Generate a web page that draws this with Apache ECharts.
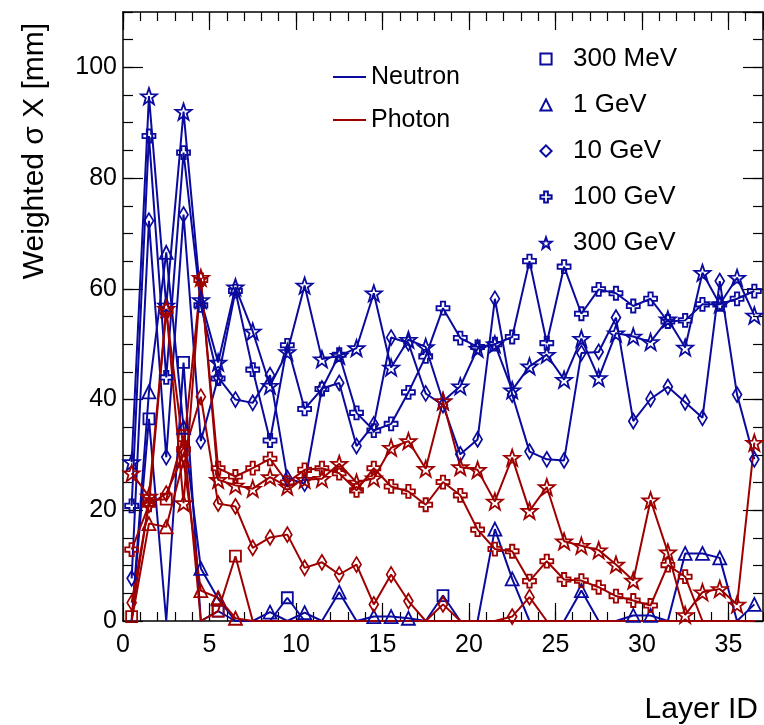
<!DOCTYPE html>
<html>
<head>
<meta charset="utf-8">
<script src="https://cdn.jsdelivr.net/npm/echarts@6/dist/echarts.min.js"></script>
<style>
	html, body { margin: 0; padding: 0; background: #fff; }
	#chart { width: 764px; height: 725px; }
</style>
</head>
<body>
<div id="chart"></div>
<script>
	const FONT = '"Liberation Sans", Arial, sans-serif'
	const BLUE = '#0a0a9e'
	const RED = '#9e0000'

	// layer centres on the x axis
	const layerId = [0.5, 1.5, 2.5, 3.5, 4.5, 5.5, 6.5, 7.5, 8.5, 9.5,
		10.5, 11.5, 12.5, 13.5, 14.5, 15.5, 16.5, 17.5, 18.5, 19.5,
		20.5, 21.5, 22.5, 23.5, 24.5, 25.5, 26.5, 27.5, 28.5, 29.5,
		30.5, 31.5, 32.5, 33.5, 34.5, 35.5, 36.5]

	const energies = ['300 MeV', '1 GeV', '10 GeV', '100 GeV', '300 GeV']

	/* neutron */
	const neutron300MeV = [0, 36.5, 0, 46.7, 0, 1.8, 0, 0, 0, 4.2,
		0, 0, 0, 0, 0, 0, 0, 0, 4.6, 0,
		0, 0, 0, 0, 0, 0, 0, 0, 0, 0,
		0, 0, 0, 0, 0, 0, 0]
	const neutron1GeV = [0, 41.4, 66.6, 35, 9.5, 4, 0, 0, 1.6, 0,
		1.5, 0, 5.2, 0, 0.8, 0.8, 0.5, 0, 0, 0,
		0, 16.6, 7.6, 0, 0, 0, 5.5, 0, 0, 1,
		1, 0, 12.2, 12.2, 11.4, 0, 3]
	const neutron10GeV = [7.7, 72.3, 29.6, 73.4, 32.5, 44, 40, 39.4, 44.4, 25.8,
		24.8, 42, 43, 31.6, 35.5, 51.2, 50.2, 41.1, 39, 30.1,
		32.8, 58.2, 40.9, 30.6, 29.2, 29, 48.4, 48.6, 54.8, 36.1,
		40.1, 42.3, 39.5, 36.7, 61.4, 40.9, 29.2]
	const neutron100GeV = [20.8, 87.6, 44, 84.6, 57, 43.8, 59.6, 45.4, 32.6, 49.8,
		38.3, 41.9, 48.1, 37.6, 34.4, 35.6, 41.3, 47.8, 56.5, 51.1,
		49.5, 50, 51.3, 65, 50.2, 64, 55.5, 59.9, 59.2, 56.9,
		58.2, 54.1, 54.3, 57.2, 57.2, 58.2, 59.6]
	const neutron300GeV = [28.7, 94.8, 57, 92, 58, 46.7, 60.3, 52.3, 42.5, 48.6,
		60.6, 47.3, 47.9, 49.3, 59.2, 45.8, 50.8, 49.5, 39.7, 42.4,
		49.2, 50, 41.7, 46, 48.1, 43.6, 51, 43.9, 52, 51.4,
		50.4, 54.5, 49.4, 62.9, 57.2, 62, 55.2]

	/* photon */
	const photon300MeV = [0.8, 21.8, 22, 33.5, 0, 1.8, 11.7, 0, 0, 0,
		0, 0, 0, 0, 0, 0, 0, 0, 0, 0,
		0, 0, 0, 0, 0, 0, 0, 0, 0, 0,
		0, 0, 0, 0, 0, 0, 0]
	const photon1GeV = [0, 17.6, 17, 29, 5.5, 4.2, 0.5, 0, 0, 0,
		0, 0, 0, 0, 0, 0, 0, 0, 0, 0,
		0, 0, 0, 0, 0, 0, 0, 0, 0, 0,
		0, 0, 0, 0, 0, 0, 0]
	const photon10GeV = [3.3, 21, 23, 30, 40.5, 21.2, 20.7, 13.2, 15.1, 15.6,
		9.6, 10.6, 8.4, 10.2, 3, 8.4, 3.6, 0, 3, 0,
		0, 0, 0.8, 4.3, 0, 0, 0, 0, 0, 0,
		0, 0, 0, 0, 0, 0, 0]
	const photon100GeV = [12.9, 21, 56, 31, 61.6, 27.6, 26.1, 27.6, 29.3, 25,
		27.3, 27.6, 26.7, 23.6, 27.6, 24.3, 23.4, 21, 25.1, 22.7,
		16.5, 13, 12.6, 7.2, 10.8, 7.5, 7.3, 6.1, 4.5, 3.7,
		2.8, 10.1, 8, 0, 0, 0, 0]
	const photon300GeV = [26.7, 22.5, 56.4, 21.3, 62, 25.5, 24.5, 23.9, 26, 24.3,
		25.5, 25.7, 28.4, 25, 25.8, 31.3, 32.5, 27.5, 39.7, 27.8,
		27.3, 21.6, 29.5, 19.9, 24.2, 14.4, 13.6, 12.8, 10.2, 7.3,
		21.8, 12.4, 1.1, 5.2, 5.8, 3, 32.2]

	const neutronData = [neutron300MeV, neutron1GeV, neutron10GeV, neutron100GeV, neutron300GeV]
	const photonData = [photon300MeV, photon1GeV, photon10GeV, photon100GeV, photon300GeV]

	// ROOT style open markers
	const crossPath = 'path://M-1,-3L1,-3L1,-1L3,-1L3,1L1,1L1,3L-1,3L-1,1L-3,1L-3,-1L-1,-1Z'
	const starPath = 'path://M0,-10L2.35,-3.24L9.51,-3.09L3.8,1.24L5.88,8.09L0,4L-5.88,8.09L-3.8,1.24L-9.51,-3.09L-2.35,-3.24Z'
	const markers = [
		{ symbol: 'rect', size: 11 },
		{ symbol: 'triangle', size: 13 },
		{ symbol: 'diamond', size: [9, 15] },
		{ symbol: crossPath, size: 13 },
		{ symbol: starPath, size: 16 }
	]

	function graphSeries(name, color, vals, m) {
		return {
			name: name,
			type: 'line',
			xAxisIndex: 0,
			yAxisIndex: 0,
			clip: false,
			symbol: m.symbol,
			symbolSize: m.size,
			showAllSymbol: true,
			lineStyle: { color: color, width: 2 },
			itemStyle: { color: 'transparent', borderColor: color, borderWidth: 1.8 },
			// markers sitting on the frame (zero) are not drawn, like in ROOT
			data: layerId.map((x, i) => vals[i] === 0 ? { value: [x, 0], symbol: 'none' } : [x, vals[i]])
		}
	}

	var seriesData = []
	neutronData.forEach((v, k) => {
		seriesData.push(graphSeries('n ' + energies[k], BLUE, v, markers[k]))
	})
	photonData.forEach((v, k) => {
		seriesData.push(graphSeries('p ' + energies[k], RED, v, markers[k]))
	})
	/* legend-only entries */
	seriesData.push({ name: 'Neutron', type: 'line', symbol: 'none', lineStyle: { color: BLUE, width: 2 }, itemStyle: { color: BLUE }, data: [] })
	seriesData.push({ name: 'Photon', type: 'line', symbol: 'none', lineStyle: { color: RED, width: 2 }, itemStyle: { color: RED }, data: [] })
	energies.forEach((e, k) => {
		seriesData.push({
			name: e, type: 'line', symbol: markers[k].symbol,
			lineStyle: { color: BLUE, width: 0 },
			itemStyle: { color: 'transparent', borderColor: BLUE, borderWidth: 1.8 },
			data: []
		})
	})

	const tickStyle = { color: '#000', width: 1.2 }
	function xAx(pos, interval, len, labels) {
		return {
			type: 'value', min: 0, max: 37, interval: interval, position: pos,
			axisLine: { show: labels !== null, onZero: false, lineStyle: { color: '#000', width: 1.5 } },
			axisTick: { show: true, inside: true, length: len, lineStyle: tickStyle },
			axisLabel: labels ? { color: '#000', fontSize: 25, fontFamily: FONT, margin: 12, showMaxLabel: false } : { show: false },
			splitLine: { show: false }
		}
	}
	function yAx(pos, interval, len, labels) {
		return {
			type: 'value', min: 0, max: 110, interval: interval, position: pos,
			axisLine: { show: labels !== null, onZero: false, lineStyle: { color: '#000', width: 1.5 } },
			axisTick: { show: true, inside: true, length: len, lineStyle: tickStyle },
			axisLabel: labels ? { color: '#000', fontSize: 25, fontFamily: FONT, margin: 6, showMaxLabel: false } : { show: false },
			splitLine: { show: false }
		}
	}

	var chart = echarts.init(document.getElementById('chart'), null, { renderer: 'canvas' })
	chart.setOption({
		animation: false,
		backgroundColor: '#fff',
		grid: { left: 123, right: 1, top: 12, bottom: 104 },
		xAxis: [
			xAx('bottom', 5, 18, true),
			xAx('bottom', 1, 9, null),
			xAx('top', 5, 18, false),
			xAx('top', 1, 9, null)
		],
		yAxis: [
			yAx('left', 20, 20, true),
			yAx('left', 5, 10, null),
			yAx('right', 20, 20, false),
			yAx('right', 5, 10, null)
		],
		legend: [{
			data: ['Neutron', 'Photon'],
			orient: 'vertical',
			left: 327,
			top: 57,
			itemWidth: 33,
			itemHeight: 14,
			itemGap: 13,
			selectedMode: false,
			itemStyle: { opacity: 0 },
			textStyle: { color: '#000', fontSize: 25, fontFamily: FONT, lineHeight: 30 }
		}, {
			data: energies,
			orient: 'vertical',
			left: 519,
			top: 39,
			itemWidth: 44,
			itemHeight: 14,
			itemGap: 16,
			selectedMode: false,
			lineStyle: { opacity: 0 },
			textStyle: { color: '#000', fontSize: 26, fontFamily: FONT, lineHeight: 30 }
		}],
		graphic: [{
			type: 'text',
			x: 35,
			y: 151,
			rotation: Math.PI / 2,
			style: { text: 'Weighted σ X [mm]', fill: '#000', fontSize: 30, fontFamily: FONT, align: 'center', verticalAlign: 'middle' }
		}, {
			type: 'text',
			x: 758,
			y: 710,
			style: { text: 'Layer ID', fill: '#000', fontSize: 30, fontFamily: FONT, align: 'right', verticalAlign: 'middle' }
		}],
		series: seriesData
	})
</script>
</body>
</html>
